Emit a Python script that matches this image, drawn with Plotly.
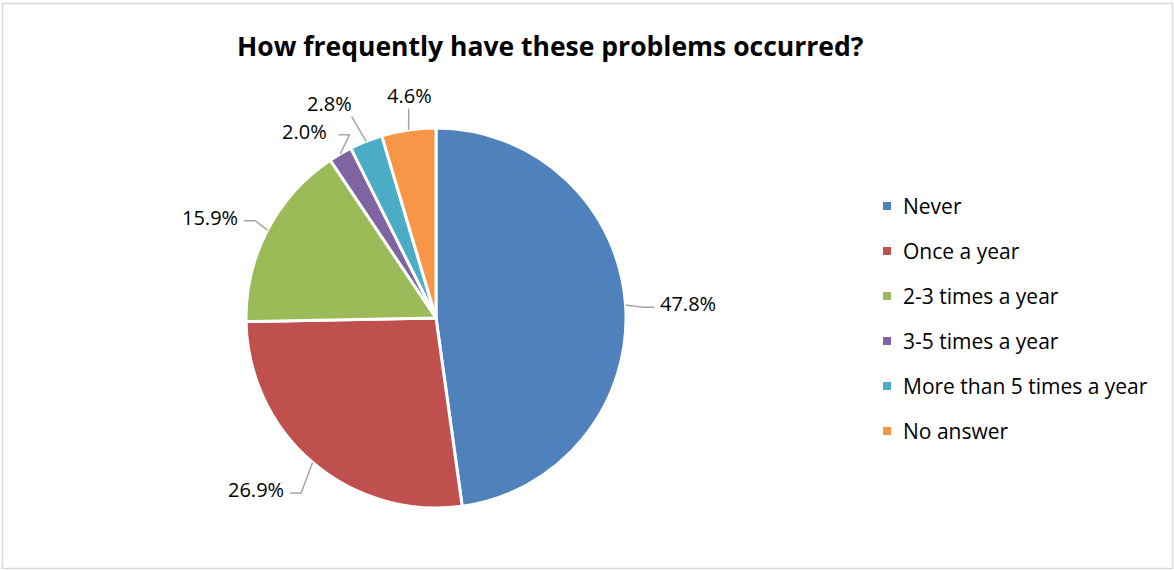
import math
import plotly.graph_objects as go

# Survey answers and their shares (%)
categories = ["Never", "Once a year", "2-3 times a year", "3-5 times a year",
              "More than 5 times a year", "No answer"]
shares = [47.8, 26.9, 15.9, 2.0, 2.8, 4.6]
colors = ["#4F81BD", "#C0504D", "#9BBB59", "#8064A2", "#4BACC6", "#F79646"]

W, H = 1174, 570
FONT = "Open Sans, Calibri, sans-serif"

# pie geometry in pixels
CX, CY, R = 436, 318, 190

# label placement: radius factor, angle nudge (deg), leader attach side
label_r = [1.33, 1.31, 1.30, 1.20, 1.26, 1.18]
label_nudge = [0.6, 5.8, -3.6, -5.0, -4.7, 1.4]
attach = ["left", "right", "right", "right", "bottom", "bottom"]

fig = go.Figure()

fig.add_trace(go.Pie(
    labels=categories, values=shares, sort=False, direction="clockwise",
    rotation=0, marker=dict(colors=colors, line=dict(color="white", width=3)),
    textinfo="none", hoverinfo="label+percent", showlegend=False,
    domain=dict(x=[(CX - R) / W, (CX + R) / W],
                y=[(H - CY - R) / H, (H - CY + R) / H]),
))

# invisible pixel-space axes used to place labels, leader lines and legend
fig.add_trace(go.Scatter(x=[0, W], y=[0, H], mode="markers",
                         marker=dict(opacity=0), hoverinfo="skip", showlegend=False))

shapes = []
annotations = []
total = sum(shares)
cum = 0.0
lab_font = dict(family=FONT, size=20, color="#000000")
for i, v in enumerate(shares):
    mid = (cum + v / 2) / total * 360.0
    cum += v
    a = math.radians(mid)
    ex, ey = CX + R * math.sin(a), CY - R * math.cos(a)
    b = math.radians(mid + label_nudge[i])
    rl = R * label_r[i]
    tx, ty = CX + rl * math.sin(b), CY - rl * math.cos(b)
    txt = f"{v:.1f}%"
    annotations.append(dict(x=tx, y=ty, xref="x", yref="y", text=txt,
                            showarrow=False, font=lab_font,
                            xanchor="center", yanchor="middle"))
    half_w = 31
    if attach[i] == "left":
        hx, hy = tx - half_w - 3, ty + 4
        path = [(ex, ey), (hx - 11, hy), (hx, hy)]
    elif attach[i] == "right":
        hx, hy = tx + half_w + 3, ty + 3
        path = [(ex, ey), (hx + 11, hy), (hx, hy)]
    else:
        hy = ty + 13
        path = [(ex, ey), (tx + (ex - tx) * 0.6, hy)]
    d = "M " + " L ".join(f"{px:.1f},{py:.1f}" for px, py in path)
    shapes.append(dict(type="path", path=d, xref="x", yref="y",
                       line=dict(color="#A6A6A6", width=1.5)))

# legend: square swatches with labels
LX, LY0, LDY = 887, 206, 45
for i, name in enumerate(categories):
    y = LY0 + i * LDY
    shapes.append(dict(type="rect", xref="x", yref="y",
                       x0=LX - 4, x1=LX + 4, y0=y - 4, y1=y + 4,
                       fillcolor=colors[i], line=dict(width=0)))
    annotations.append(dict(x=LX + 14, y=y, xref="x", yref="y", text=name,
                            showarrow=False, xanchor="left", yanchor="middle",
                            font=dict(family=FONT, size=21, color="#000000")))

# chart title
annotations.append(dict(x=550, y=46, xref="x", yref="y",
                        text="<b>How frequently have these problems occurred?</b>",
                        showarrow=False, xanchor="center", yanchor="middle",
                        font=dict(family=FONT, size=26.5, color="#000000")))

# chart area border
shapes.append(dict(type="rect", xref="x", yref="y", x0=2.5, x1=1172.5,
                   y0=3.5, y1=568.5, line=dict(color="#D9D9D9", width=1.5)))

fig.update_layout(
    width=W, height=H, margin=dict(l=0, r=0, t=0, b=0),
    paper_bgcolor="white", plot_bgcolor="rgba(0,0,0,0)",
    xaxis=dict(range=[0, W], visible=False, fixedrange=True),
    yaxis=dict(range=[H, 0], visible=False, fixedrange=True),
    shapes=shapes, annotations=annotations, showlegend=False,
)

fig.write_html("out.html")
